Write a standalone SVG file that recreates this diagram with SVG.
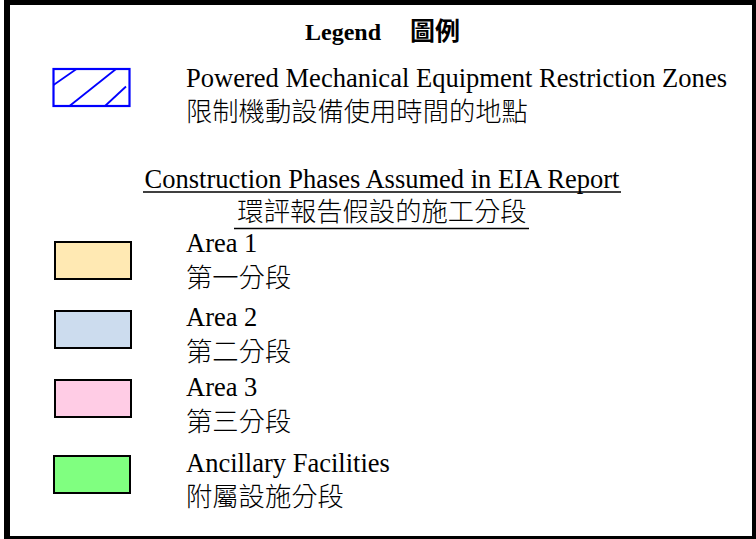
<svg xmlns="http://www.w3.org/2000/svg" width="756" height="539" viewBox="0 0 756 539">
<style>
.en{font-family:"Liberation Serif","Times New Roman",serif;font-size:26.5px;fill:#000}
.cj{font-family:"Noto Sans CJK TC","Noto Sans CJK SC",sans-serif;font-size:26.3px;font-weight:300;fill:#000}
.sw{stroke:#000;stroke-width:2}
</style>
<rect x="0" y="0" width="756" height="539" fill="#fff"/>
<g id="frame" fill="#000">
<rect x="4" y="0" width="752" height="5"/>
<rect x="4" y="0" width="6" height="539"/>
<rect x="752" y="0" width="4" height="539"/>
<rect x="4" y="536" width="752" height="3"/>
</g>
<g id="title">
<text x="305" y="39.5" class="en" style="font-size:24px;font-weight:bold">Legend</text>
<text x="410" y="40" class="cj" style="font-weight:bold;font-size:25px">圖例</text>
</g>
<g id="pme">
<rect x="53.5" y="69" width="76" height="37" fill="#fff" stroke="#0000ff" stroke-width="2.2"/>
<g stroke="#0000ff" stroke-width="1.8">
<line x1="53.5" y1="85" x2="76.5" y2="69"/>
<line x1="69.5" y1="106" x2="116" y2="69"/>
<line x1="105" y1="106" x2="126" y2="86.5"/>
</g>
<text x="186" y="87" class="en" textLength="541" lengthAdjust="spacingAndGlyphs">Powered Mechanical Equipment Restriction Zones</text>
<text x="186" y="121" class="cj">限制機動設備使用時間的地點</text>
</g>
<g id="heading">
<text x="382" y="187.5" class="en" text-anchor="middle">Construction Phases Assumed in EIA Report</text>
<line x1="143" y1="192" x2="621" y2="192" stroke="#000" stroke-width="1.5"/>
<text x="382" y="221" class="cj" text-anchor="middle">環評報告假設的施工分段</text>
<line x1="234" y1="228.5" x2="529" y2="228.5" stroke="#000" stroke-width="1.5"/>
</g>
<g id="area1">
<rect x="55" y="242" width="76" height="37" fill="#ffe9b3" class="sw"/>
<text x="186" y="252" class="en">Area 1</text>
<text x="186" y="287" class="cj">第一分段</text>
</g>
<g id="area2">
<rect x="55" y="311" width="76" height="37" fill="#ccdcee" class="sw"/>
<text x="186" y="326" class="en">Area 2</text>
<text x="186" y="361" class="cj">第二分段</text>
</g>
<g id="area3">
<rect x="55" y="380" width="76" height="37" fill="#ffcce5" class="sw"/>
<text x="186" y="396" class="en">Area 3</text>
<text x="186" y="431" class="cj">第三分段</text>
</g>
<g id="ancillary">
<rect x="54" y="456" width="76" height="37" fill="#80ff80" class="sw"/>
<text x="186" y="471.5" class="en">Ancillary Facilities</text>
<text x="186" y="505.5" class="cj">附屬設施分段</text>
</g>
</svg>
